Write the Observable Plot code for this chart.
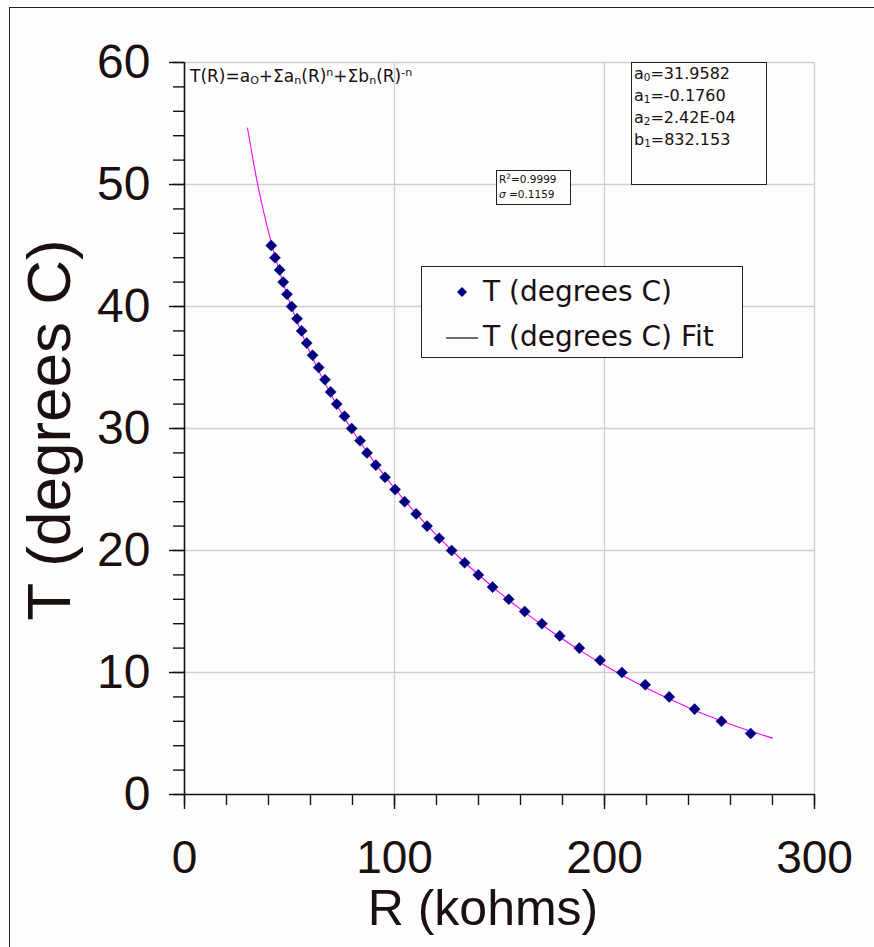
<!DOCTYPE html>
<html>
<head>
<meta charset="utf-8">
<script src="https://cdn.jsdelivr.net/npm/d3@7"></script>
<script src="https://cdn.jsdelivr.net/npm/@observablehq/plot@0.6"></script>
<style>
  html, body { margin: 0; padding: 0; background: #fdfdfd; }
  #wrap { position: relative; width: 874px; height: 947px; overflow: hidden; font-family: "DejaVu Sans", sans-serif; color: #1a1010; }
  #frame { position: absolute; left: 9px; top: 7px; width: 900px; height: 960px; border-left: 1.5px solid #222; border-top: 1.5px solid #222; }
  #chart { position: absolute; left: 0; top: 0; }
  .abs { position: absolute; white-space: nowrap; }
  sub, sup { line-height: 0; }
  #formula { left: 190px; top: 66px; font-size: 17px; }
  #formula sub, #coef sub { font-size: 0.65em; vertical-align: -0.2em; }
  #formula sup { font-size: 0.65em; vertical-align: 0.55em; }
  #coef { left: 631px; top: 62px; width: 132px; height: 121px; border: 1px solid #222; background: #fdfdfd; font-size: 16px; line-height: 22px; padding: 0 0 0 2px; box-sizing: content-box; }
  #stats { left: 496px; top: 170px; width: 71px; height: 32px; border: 1px solid #222; background: #fdfdfd; font-size: 10.5px; line-height: 15px; padding: 1px 0 0 2px; }
  #stats sup { font-size: 0.7em; vertical-align: 0.5em; }
  #legend { left: 421px; top: 266px; width: 320px; height: 90px; border: 1px solid #222; background: #fdfdfd; font-size: 28px; }
  .lrow { position: absolute; left: 0; height: 40px; line-height: 40px; }
  .lrow span { position: absolute; left: 61px; }
  #xlabel { left: 0; width: 966px; top: 883px; text-align: center; font-family: "Liberation Sans", sans-serif; font-size: 50px; line-height: 1; }
  #ylabel { left: 49px; top: 430px; transform: translate(-50%, -50%) rotate(-90deg); font-family: "Liberation Sans", sans-serif; font-size: 62px; line-height: 1; }
</style>
</head>
<body>
<div id="wrap">
  <div id="frame"></div>
  <div id="chart"></div>
  <div id="formula" class="abs">T(R)=a<sub>O</sub>+Σa<sub>n</sub>(R)<sup>n</sup>+Σb<sub>n</sub>(R)<sup>-n</sup></div>
  <div id="coef" class="abs"></div>
  <div id="stats" class="abs"></div>
  <div id="legend" class="abs">
    <div class="lrow" style="top:5px;width:100%">
      <svg style="position:absolute;left:34px;top:14px" width="12" height="12"><polygon points="6,1 11,6 6,11 1,6" fill="#000080"/></svg>
      <span id="leg1"></span>
    </div>
    <div class="lrow" style="top:50px;width:100%">
      <svg style="position:absolute;left:24px;top:20px" width="32" height="2"><line x1="0" y1="1" x2="32" y2="1" stroke="#111" stroke-width="1.2"/></svg>
      <span id="leg2"></span>
    </div>
  </div>
  <div id="xlabel" class="abs"></div>
  <div id="ylabel" class="abs"></div>
</div>
<script>
// Measured points: resistance (kohms) and temperature (degrees C)
const pointR = [41.3, 43.1, 45.3, 47.0, 48.8, 51.0, 53.6, 55.8, 58.2, 61.0, 63.9, 66.9, 69.6, 72.5, 76.2, 79.6, 83.6, 86.9, 91.1, 95.5, 100.3, 104.8, 110.3, 115.5, 121.3, 127.2, 133.4, 139.9, 146.7, 154.4, 162.0, 170.2, 178.7, 188.0, 197.9, 208.3, 219.4, 230.8, 242.9, 255.7, 269.6];
const pointT = [45, 44, 43, 42, 41, 40, 39, 38, 37, 36, 35, 34, 33, 32, 31, 30, 29, 28, 27, 26, 25, 24, 23, 22, 21, 20, 19, 18, 17, 16, 15, 14, 13, 12, 11, 10, 9, 8, 7, 6, 5];

// Fit curve
const fitR = [30, 35, 40, 45, 50, 60, 70, 80, 90, 100, 110, 120, 130, 140, 150, 160, 170, 180, 190, 200, 210, 220, 230, 240, 250, 260, 270, 280];
const fitT = [54.63, 49.87, 46.11, 43.02, 40.41, 36.14, 32.71, 29.83, 27.32, 25.10, 23.09, 21.26, 19.57, 18.01, 16.55, 15.19, 13.93, 12.74, 11.63, 10.60, 9.63, 8.73, 7.90, 7.12, 6.41, 5.76, 5.16, 4.62];

// Axis ticks
const xMajorTicks = [0, 100, 200, 300];
const xMinorTicks = [0, 20, 40, 60, 80, 100, 120, 140, 160, 180, 200, 220, 240, 260, 280, 300];
const yMajorTicks = [0, 10, 20, 30, 40, 50, 60];
const yMinorTicks = [0, 2, 4, 6, 8, 10, 12, 14, 16, 18, 20, 22, 24, 26, 28, 30, 32, 34, 36, 38, 40, 42, 44, 46, 48, 50, 52, 54, 56, 58, 60];
const xGridTicks = [100, 200, 300];
const yGridTicks = [10, 20, 30, 40, 50, 60];

// Texts
const xTitle = "R (kohms)";
const yTitle = "T (degrees C)";
const seriesNames = ["T (degrees C)", "T (degrees C) Fit"];
const coefNames = [["a", "0"], ["a", "1"], ["a", "2"], ["b", "1"]];
const coefValues = ["31.9582", "-0.1760", "2.42E-04", "832.153"];
const r2Value = "0.9999";
const sigmaValue = "0.1159";

const points = pointR.map((r, i) => ({R: r, T: pointT[i]}));
const fit = fitR.map((r, i) => ({R: r, T: fitT[i]}));

const ink = "#1a1010";
const chart = Plot.plot({
  width: 874,
  height: 947,
  marginLeft: 184,
  marginRight: 60,
  marginTop: 62,
  marginBottom: 153,
  x: {domain: [0, 300]},
  y: {domain: [0, 60]},
  style: {background: "transparent", fontFamily: "Liberation Sans, sans-serif", color: ink},
  marks: [
    Plot.gridY(yGridTicks, {stroke: "#cfcfcf", strokeOpacity: 1, strokeWidth: 1.3}),
    Plot.gridX(xGridTicks, {stroke: "#cfcfcf", strokeOpacity: 1, strokeWidth: 1.3}),
    Plot.line(fit, {x: "R", y: "T", stroke: "#ff00ff", strokeWidth: 1.1, curve: "catmull-rom"}),
    Plot.dot(points, {x: "R", y: "T", symbol: "diamond2", r: 5, fill: "#000080", stroke: "#000080", strokeWidth: 0.5}),
    Plot.ruleX([0], {stroke: ink, strokeWidth: 1.6}),
    Plot.ruleY([0], {stroke: ink, strokeWidth: 1.6}),
    Plot.axisY(yMinorTicks, {tickSize: 11, tickFormat: () => "", label: null, stroke: ink, strokeWidth: 1.4}),
    Plot.axisY(yMajorTicks, {tickSize: 15, tickPadding: 19, fontSize: 48, label: null, stroke: ink, strokeWidth: 1.4}),
    Plot.axisX(xMinorTicks, {tickSize: 11, tickFormat: () => "", label: null, stroke: ink, strokeWidth: 1.4}),
    Plot.axisX(xMajorTicks, {tickSize: 15, tickPadding: 31, fontSize: 46, label: null, stroke: ink, strokeWidth: 1.4})
  ]
});
document.getElementById("chart").appendChild(chart);

document.getElementById("xlabel").textContent = xTitle;
document.getElementById("ylabel").textContent = yTitle;
document.getElementById("leg1").textContent = seriesNames[0];
document.getElementById("leg2").textContent = seriesNames[1];
document.getElementById("coef").innerHTML = coefNames.map((c, i) => `${c[0]}<sub>${c[1]}</sub>=${coefValues[i]}`).join("<br>");
document.getElementById("stats").innerHTML = `R<sup>2</sup>=${r2Value}<br><span style="font-style:italic">σ</span> =${sigmaValue}`;
</script>
</body>
</html>
